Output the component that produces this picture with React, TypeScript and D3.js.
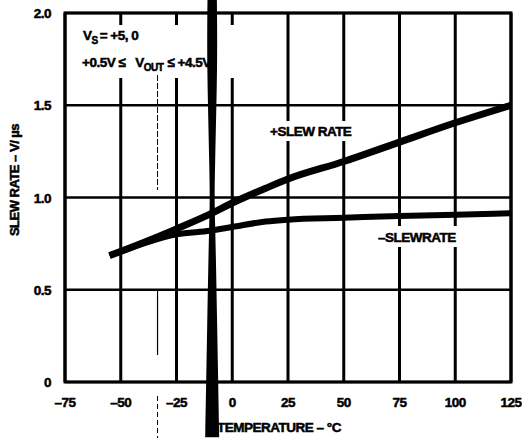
import React from "react";
import * as d3 from "d3";

const temps = [-55, -40, -25, -10, 0, 15, 25, 50, 75, 100, 125];
const plusSlew = [0.685, 0.755, 0.83, 0.91, 0.97, 1.05, 1.1, 1.195, 1.3, 1.405, 1.5];
const minusSlew = [0.685, 0.75, 0.8, 0.82, 0.84, 0.87, 0.88, 0.89, 0.9, 0.907, 0.915];
const xTicks = [-75, -50, -25, 0, 25, 50, 75, 100, 125];
const yTicks = [0, 0.5, 1.0, 1.5, 2.0];
const yTickLabels = ["0", "0.5", "1.0", "1.5", "2.0"];
const xTickLabels = ["–75", "–50", "–25", "0", "25", "50", "75", "100", "125"];
// scan smudge: temperature centre, and [y-value, half width px]
const smudgeT = -9;
const smudgeProfile: [number, number][] = [
  [2.15, 4.5], [1.95, 5], [1.7, 5], [1.45, 4], [1.2, 3], [1.0, 2.2], [0.85, 3], [0.6, 4], [0.3, 5], [0, 6], [-0.3, 7],
];

const W = 522, H = 438;
const M = { left: 65, right: 511, top: 13, bottom: 382 };
const FONT = "'Liberation Sans', Arial, sans-serif";

export default function App() {
  const x = d3.scaleLinear().domain([-75, 125]).range([M.left, M.right]);
  const y = d3.scaleLinear().domain([0, 2]).range([M.bottom, M.top]);
  const line = d3.line<[number, number]>().x((d) => x(d[0])).y((d) => y(d[1])).curve(d3.curveMonotoneX);
  const plusPts = temps.map((t, i) => [t, plusSlew[i]] as [number, number]);
  const minusPts = temps.map((t, i) => [t, minusSlew[i]] as [number, number]);
  const smudge = d3
    .area<[number, number]>()
    .y((d) => y(d[0]))
    .x0((d) => x(smudgeT) - d[1])
    .x1((d) => x(smudgeT) + d[1])
    .curve(d3.curveBasis);
  const ts: React.CSSProperties = {
    fontFamily: FONT, fontWeight: 700, fontSize: 13.5, letterSpacing: -0.5,
    stroke: "#000", strokeWidth: 0.5,
  };

  return (
    <svg width={W} height={H} style={{ position: "absolute", left: 0, top: 0, background: "#fff" }}>
      <rect width={W} height={H} fill="#fff" />
      {/* grid */}
      {yTicks.map((v) => (
        <line key={"h" + v} x1={M.left} x2={M.right} y1={y(v)} y2={y(v)} stroke="#000" strokeWidth={2.5} />
      ))}
      {xTicks.map((t) => (
        <line key={"v" + t} x1={x(t)} x2={x(t)} y1={M.top} y2={M.bottom} stroke="#000" strokeWidth={3} />
      ))}
      {/* label knock-outs */}
      <rect x={80} y={25} width={160} height={53} fill="#fff" />
      <rect x={268} y={121} width={100} height={20} fill="#fff" />
      <rect x={376} y={226} width={100} height={21} fill="#fff" />
      <rect x={M.left} y={M.top} width={M.right - M.left} height={M.bottom - M.top} fill="none" stroke="#000" strokeWidth={3} />
      {/* curves */}
      <path d={line(plusPts) || ""} fill="none" stroke="#000" strokeWidth={7} strokeLinecap="butt" />
      <path d={line(minusPts) || ""} fill="none" stroke="#000" strokeWidth={6} strokeLinecap="butt" />
      {/* annotations */}
      <text x={83} y={40} style={ts}>
        V<tspan dy={4} fontSize={10}>S</tspan><tspan dy={-4} dx={2}>= +5, 0</tspan>
      </text>
      <text x={82} y={67} style={ts}>
        +0.5V ≤<tspan dx={10}>V</tspan><tspan dy={4} fontSize={10}>OUT</tspan><tspan dy={-4} dx={4}>≤ +4.5V</tspan>
      </text>
      <text x={270} y={136} style={ts}>+SLEW RATE</text>
      <text x={378} y={242} style={ts}>–SLEWRATE</text>
      {/* ticks */}
      {yTicks.map((v, i) => (
        <text key={"yl" + v} x={51} y={y(v) + 5} textAnchor="end" style={ts}>{yTickLabels[i]}</text>
      ))}
      {xTicks.map((t, i) => (
        <text key={"xl" + t} x={x(t)} y={407} textAnchor="middle" style={ts}>{xTickLabels[i]}</text>
      ))}
      <text x={279} y={432} textAnchor="middle" style={ts}>TEMPERATURE – °C</text>
      <text transform={`translate(19, 180) rotate(-90)`} textAnchor="middle" style={{ ...ts, fontSize: 13 }}>SLEW RATE – V/ µs</text>
      {/* scan artefacts */}
      <line x1={x(-33.5)} x2={x(-33.5)} y1={75} y2={190} stroke="#000" strokeWidth={1} strokeDasharray="6 2" />
      <line x1={x(-33.5)} x2={x(-33.5)} y1={290} y2={355} stroke="#000" strokeWidth={1.2} />
      <line x1={x(-33.5)} x2={x(-33.5)} y1={396} y2={438} stroke="#000" strokeWidth={1} strokeDasharray="5 3" />
      <path d={smudge(smudgeProfile) || ""} fill="#000" />
    </svg>
  );
}
